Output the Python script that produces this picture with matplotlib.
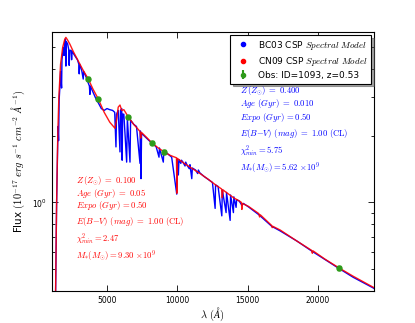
import numpy as np
import matplotlib
matplotlib.use("Agg")
import matplotlib.pyplot as plt
from matplotlib.lines import Line2D
from matplotlib.ticker import NullFormatter, FixedLocator

plt.rcParams['mathtext.fontset'] = 'cm'
plt.rcParams['font.family'] = 'DejaVu Sans'

bc03_wave = [1300, 1350, 1420, 1480, 1520, 1560, 1600, 1650, 1700, 1774, 1800,
             1900, 1950, 2000, 2050, 2080, 2110, 2200, 2280, 2315, 2350, 2450,
             2486, 2520, 2700, 2900, 3000, 3027, 3060, 3200, 3312, 3340, 3500,
             3600, 3750, 3789, 3820, 4000, 4200, 4400, 4600, 4800, 5000, 5200,
             5400, 5550, 5640, 5680, 5800, 5925, 5960, 6050, 6080, 6116, 6200,
             6400, 6450, 6637, 6680, 6900, 7100, 7350, 7380, 7420, 7460, 7700,
             8000, 8300, 8500, 8700, 8730, 9006, 9040, 9300, 9600, 9960, 10000,
             10076, 10120, 10250, 10300, 10400, 10550, 10600, 10700, 10850, 10900,
             11030, 11070, 11300, 11450, 11500, 11600, 11900, 12200, 12500, 12690,
             12720, 12900, 13165, 13200, 13470, 13500, 13757, 13790, 13990, 14020,
             14180, 14220, 14400, 14600, 14700, 15060, 15800, 16720, 17300, 18500,
             19570, 20500, 21470, 22500, 23918, 24100]
bc03_flux = [0.30, 0.40, 1.00, 1.60, 2.20, 1.90, 2.90, 3.30, 3.90, 3.28, 4.40,
             5.00, 4.60, 5.30, 5.45, 4.12, 5.30, 5.20, 4.90, 4.15, 4.85, 4.85,
             4.40, 4.80, 4.60, 4.40, 4.20, 3.80, 4.20, 3.95, 3.60, 3.90, 3.70,
             3.55, 3.35, 3.07, 3.35, 3.15, 2.95, 2.80, 2.65, 2.60, 2.65, 2.62,
             2.60, 2.55, 1.78, 2.50, 2.60, 1.69, 2.60, 2.65, 1.55, 2.50, 2.50,
             1.52, 2.40, 1.52, 2.35, 2.25, 2.20, 1.50, 2.10, 1.28, 2.05, 1.98,
             1.90, 1.83, 1.78, 1.60, 1.76, 1.52, 1.70, 1.66, 1.60, 1.09, 1.57,
             1.33, 1.56, 1.50, 1.55, 1.52, 1.46, 1.52, 1.47, 1.42, 1.48,
             1.28, 1.43, 1.40, 1.35, 1.40, 1.36, 1.31, 1.27, 1.23, 0.94,
             1.20, 1.18, 0.87, 1.14, 0.90, 1.11, 0.83, 1.08, 0.90, 1.06,
             0.95, 1.03, 1.015, 0.97, 0.99, 0.955, 0.88, 0.78, 0.745, 0.67,
             0.603, 0.553, 0.505, 0.46, 0.412, 0.405]

# CN09 model spectrum
cn09_wave = [1300, 1346, 1420, 1500, 1580, 1700, 1850, 2000, 2080, 2200, 2365,
             2600, 2960, 3300, 3667, 4000, 4380, 4800, 5200, 5570, 5700, 5800,
             5925, 6050, 6200, 6516, 6900, 7350, 7400, 7450, 7800, 8180, 8600,
             9057, 9500, 9940, 9970, 10000, 10500, 11000, 11621, 12211, 12800,
             13150, 13200, 13250, 13400, 14000, 14470, 14560, 14590, 14620, 15060,
             15800, 15850, 15900, 16720, 16750, 16800, 17317, 18500, 19550, 19600,
             19650, 20500, 21470, 22500, 23918, 24100]
cn09_flux = [0.30, 0.40, 1.00, 2.00, 3.00, 4.20, 5.00, 5.45, 5.55, 5.40, 5.17,
             4.80, 4.34, 3.95, 3.61, 3.25, 2.93, 2.55, 2.30, 2.16, 2.40, 2.69,
             2.75, 2.60, 2.62, 2.43, 2.25, 2.09, 1.95, 2.07, 1.97, 1.86, 1.77,
             1.69, 1.63, 1.59, 1.10, 1.58, 1.50, 1.43, 1.35, 1.27, 1.19,
             1.15, 1.05, 1.14, 1.12, 1.05, 1.01, 1.00, 0.93, 0.99, 0.96,
             0.89, 0.86, 0.88, 0.786, 0.77, 0.78, 0.751, 0.67, 0.608, 0.59,
             0.605, 0.555, 0.508, 0.465, 0.415, 0.41]

# observed photometry
obs_wave = [3667, 4380, 6516, 8180, 9057, 21470]
obs_flux = [3.61, 2.93, 2.43, 1.86, 1.69, 0.508]
obs_err = [0.05, 0.04, 0.03, 0.03, 0.03, 0.01]

fig = plt.figure(figsize=(4.15, 3.23), dpi=100)
ax = fig.add_axes([0.125, 0.1, 0.775, 0.8])

ax.plot(bc03_wave, bc03_flux, color='b', lw=1.0)
ax.plot(cn09_wave, cn09_flux, color='r', lw=1.0, alpha=0.9)
ax.errorbar(obs_wave, obs_flux, yerr=obs_err, fmt='o', color='#2e9a1a', ms=3.6,
            mec='#2e9a1a', ecolor='#2e9a1a', capsize=1.5, elinewidth=0.8, zorder=5)

ax.set_yscale('log')
ax.set_xlim(1083, 23950)
ax.set_ylim(0.4, 5.85)
ax.xaxis.set_major_locator(FixedLocator([5000, 10000, 15000, 20000]))
ax.yaxis.set_minor_formatter(NullFormatter())

ax.tick_params(which='both', direction='in', top=True, right=True, labelsize=5.5)
ax.tick_params(which='major', length=4, width=0.6)
ax.tick_params(which='minor', length=2, width=0.6)
for s in ax.spines.values():
    s.set_linewidth(0.8)

ax.set_xlabel(r'$\lambda\ (\AA)$', fontsize=7.5, labelpad=1)
ax.set_ylabel(r'Flux $(10^{-17}\ erg\ s^{-1}\ cm^{-2}\ \AA^{-1})$', fontsize=7.5)

handles = [Line2D([], [], color='b', marker='o', ls='none', ms=3),
           Line2D([], [], color='r', marker='o', ls='none', ms=3),
           ax.errorbar([], [], yerr=[], fmt='o', color='#2e9a1a', ms=3, capsize=2)]
labels = [r'BC03 CSP $\mathit{Spectral\ Model}$',
          r'CN09 CSP $\mathit{Spectral\ Model}$',
          'Obs: ID=1093, z=0.53']
leg = ax.legend(handles, labels, loc='upper right', numpoints=1, shadow=True,
                fancybox=False, fontsize=6.5, borderaxespad=0.3,
                handletextpad=0.6, labelspacing=0.35)
leg.get_frame().set_edgecolor('k')
leg.get_frame().set_linewidth(0.8)

blue_txt = [r'$Z\,(Z_{\odot})\ =\ 0.400$',
            r'$Age\ (Gyr)\ =\ 0.010$',
            r'$Expo\ (Gyr)\,{=}0.50$',
            r'$E(B{-}V)\ (mag)\ =\ 1.00\ \mathrm{(CL)}$',
            r'$\chi^{2}_{min}{=}5.75$',
            r'$M_{*}(M_{\odot}){=}5.62\ {\times}10^{9}$']
blue_y = [91, 104, 118, 133, 151, 168]
red_txt = [r'$Z\,(Z_{\odot})\ =\ 0.100$',
           r'$Age\ (Gyr)\ =\ 0.05$',
           r'$Expo\ (Gyr)\,{=}0.50$',
           r'$E(B{-}V)\ (mag)\ =\ 1.00\ \mathrm{(CL)}$',
           r'$\chi^{2}_{min}{=}2.47$',
           r'$M_{*}(M_{\odot}){=}9.30\ {\times}10^{9}$']
red_y = [181, 193, 206, 221, 239, 256]

for t, py in zip(blue_txt, blue_y):
    fig.text(240 / 415, 1 - py / 323, t, color='b', fontsize=6.2, va='center')
for t, py in zip(red_txt, red_y):
    fig.text(76 / 415, 1 - py / 323, t, color='r', fontsize=6.2, va='center')

fig.savefig('out.png', dpi=100)
